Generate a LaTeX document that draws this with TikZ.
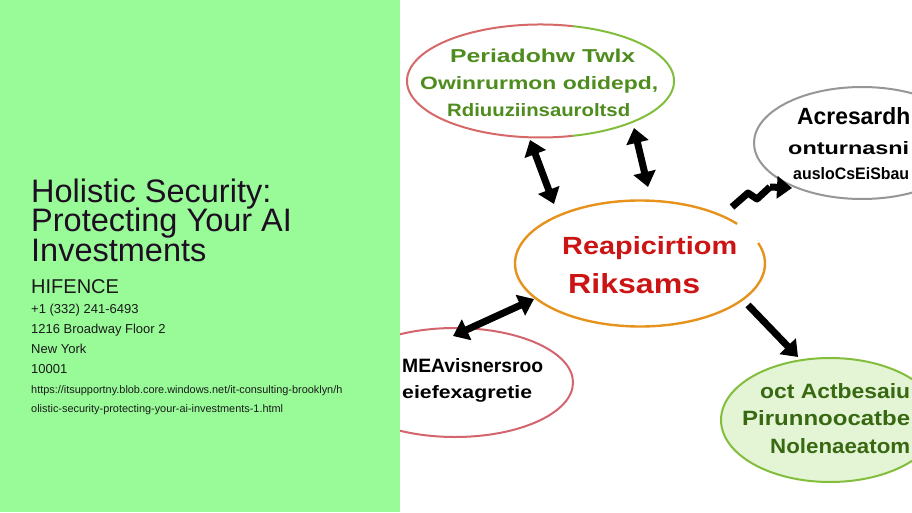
\documentclass[tikz,border=0pt]{standalone}
\usepackage{fontspec}
\setmainfont{Liberation Sans}
\usepackage{graphicx}
\usetikzlibrary{shapes.geometric,arrows.meta}
\definecolor{panelgreen}{RGB}{152,251,152}
\definecolor{titleink}{RGB}{30,14,34}
\definecolor{infoink}{RGB}{26,26,26}
\definecolor{leafgreen}{RGB}{78,140,30}
\definecolor{ringred}{RGB}{214,104,104}
\definecolor{ringgreen}{RGB}{130,190,60}
\definecolor{ringgray}{RGB}{150,150,150}
\definecolor{ringorange}{RGB}{232,146,30}
\definecolor{riskred}{RGB}{204,20,20}
\definecolor{ringpink}{RGB}{212,100,110}
\definecolor{deepgreen}{RGB}{56,104,18}
\definecolor{palefill}{RGB}{228,245,214}
\newcommand{\gib}[3]{\resizebox{#1pt}{#2pt}{\bfseries #3}}
\begin{document}
\begin{tikzpicture}[x=1pt,y=1pt,
  titletext/.style={anchor=base west, inner sep=0, text=titleink, text height=21pt, text depth=5pt, font=\fontsize{32.5}{32}\selectfont},
  infotext/.style={anchor=base west, inner sep=0, text=infoink, font=\fontsize{13}{13}\selectfont},
  bigtext/.style={anchor=base west, inner sep=0, text=infoink, font=\fontsize{20}{20}\selectfont},
  urltext/.style={anchor=base west, inner sep=0, text=infoink, font=\fontsize{10.9}{11}\selectfont},
  bubble/.style={ellipse, inner sep=0, line width=2pt},
  gibtext/.style={anchor=base west, inner sep=0},
  bigarrow/.style={line width=7pt, -{Triangle[length=15pt,width=22pt]}, black},
  dblarrow/.style={line width=7pt, {Triangle[length=15pt,width=22pt]}-{Triangle[length=15pt,width=22pt]}, black},
]
\useasboundingbox (0,0) rectangle (912,512);
\fill[white] (0,0) rectangle (912,512);
\fill[panelgreen] (0,0) rectangle (400,512);

% left panel text
\node[titletext] (t1) at (31,309) {Holistic Security:};
\node[titletext] (t2) at (31,280) {Protecting Your AI};
\node[titletext] (t3) at (31,251) {Investments};
\node[bigtext] (co) at (31,219) {HIFENCE};
\node[infotext] (ph) at (31,199) {+1 (332) 241-6493};
\node[infotext] (ad) at (31,179) {1216 Broadway Floor 2};
\node[infotext] (ci) at (31,159) {New York};
\node[infotext] (zp) at (31,139) {10001};
\node[urltext] (u1) at (31,119) {https://itsupportny.blob.core.windows.net/it-consulting-brooklyn/h};
\node[urltext] (u2) at (31,100) {olistic-security-protecting-your-ai-investments-1.html};

% bubbles
\begin{scope}
\clip (400,0) rectangle (912,512);
\node[bubble, minimum width=267pt, minimum height=113pt] (top) at (540.5,431) {};
\draw[ringred, line width=2pt] (top.center) ++(76:133.5 and 56.5) arc[start angle=76, end angle=284, x radius=133.5, y radius=56.5];
\draw[ringgreen, line width=2pt] (top.center) ++(-76:133.5 and 56.5) arc[start angle=-76, end angle=76, x radius=133.5, y radius=56.5];
\node[bubble, draw=ringgray, minimum width=216pt, minimum height=112pt] (right) at (862,369) {};
\node[bubble, minimum width=250pt, minimum height=126pt] (hub) at (640,248.5) {};
\draw[ringorange, line width=2.4pt] (hub.center) ++(39:125 and 63) arc[start angle=39, end angle=379, x radius=125, y radius=63];
\node[bubble, draw=ringpink, minimum width=236pt, minimum height=109pt] (left) at (455,129.5) {};
\node[bubble, draw=ringgreen, fill=palefill, minimum width=218pt, minimum height=124pt] (low) at (830,92) {};
\end{scope}

% bubble texts
\node[gibtext, text=leafgreen] (tl1) at (450,449) {\gib{185}{13.5}{Periadohw Twlx}};
\node[gibtext, text=leafgreen] (tl2) at (420,422) {\gib{238}{13}{Owinrurmon odidepd,}};
\node[gibtext, text=leafgreen] (tl3) at (447,395) {\gib{183}{13}{Rdiuuziinsauroltsd}};
\node[gibtext, text=black] (r1) at (797,387) {\gib{113}{17}{Acresardh}};
\node[gibtext, text=black] (r2) at (788,357) {\gib{121}{13}{onturnasni}};
\node[gibtext, text=black] (r3) at (793,332) {\gib{116}{12}{ausloCsEiSbau}};
\node[gibtext, text=riskred] (h1) at (562,257) {\gib{175}{18}{Reapicirtiom}};
\node[gibtext, text=riskred] (h2) at (568,219) {\gib{132}{20}{Riksams}};
\node[gibtext, text=black] (l1) at (402,140) {\gib{141}{14}{MEAvisnersroo}};
\node[gibtext, text=black] (l2) at (402,114) {\gib{130}{13}{eiefexagretie}};
\node[gibtext, text=deepgreen] (b1) at (760,114) {\gib{150}{15}{oct Actbesaiu}};
\node[gibtext, text=deepgreen] (b2) at (742,87) {\gib{168}{15}{Pirunnoocatbe}};
\node[gibtext, text=deepgreen] (b3) at (770,59) {\gib{140}{15}{Nolenaeatom}};

% arrows
\coordinate (a1s) at (530,372);
\coordinate (a1e) at (554,308);
\coordinate (a2s) at (634,384);
\coordinate (a2e) at (648,325);
\coordinate (a3s) at (732,305);
\coordinate (a3b) at (748,319);
\coordinate (a3c) at (757,313);
\coordinate (a3d) at (770,325);
\coordinate (a3e) at (792,324);
\coordinate (a4s) at (534,213);
\coordinate (a4e) at (453,176);
\coordinate (a5s) at (748,207);
\coordinate (a5e) at (798,155);
\draw[dblarrow] (a1s) -- (a1e);
\draw[dblarrow] (a2s) -- (a2e);
\draw[line width=7pt, line join=round, black] (a3s) -- (a3b) -- (a3c) -- (a3d);
\draw[bigarrow] (a3d) -- (a3e);
\draw[dblarrow] (a4s) -- (a4e);
\draw[bigarrow] (a5s) -- (a5e);
\end{tikzpicture}
\end{document}
